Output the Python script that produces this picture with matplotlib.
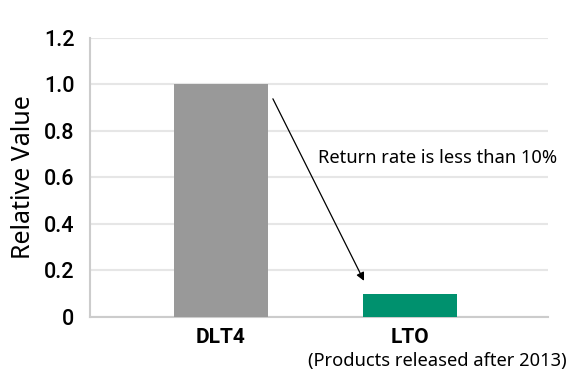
import matplotlib.pyplot as plt

categories = ['DLT4', 'LTO']
values = [1.0, 0.1]
colors = ['#999999', '#00916e']
yticks = [0, 0.2, 0.4, 0.6, 0.8, 1.0, 1.2]
yticklabels = ['0', '0.2', '0.4', '0.6', '0.8', '1.0', '1.2']

plt.rcParams['font.family'] = ['Roboto', 'DejaVu Sans']

fig = plt.figure(figsize=(5.69, 3.75), dpi=100)
ax = fig.add_axes([0.158, 0.155, 0.805, 0.744])

x = range(len(categories))
ax.bar(x, values, width=0.5, color=colors, zorder=3)

ax.set_xlim(-0.693, 1.73)
ax.set_ylim(0, 1.2)
ax.set_yticks(yticks)
ax.set_yticklabels(yticklabels, fontsize=15.5, fontweight='medium')
ax.set_xticks(list(x))
ax.set_xticklabels(categories, fontsize=15, fontweight='bold')
ax.tick_params(axis='both', length=0)
ax.tick_params(axis='x', pad=8)
ax.tick_params(axis='y', pad=11)

ax.grid(axis='y', color='#e6e6e6', linewidth=1.5, zorder=0)
for side in ['top', 'right']:
    ax.spines[side].set_visible(False)
ax.spines['left'].set_color('#cccccc')
ax.spines['bottom'].set_color('#cccccc')
ax.spines['left'].set_linewidth(1.5)
ax.spines['bottom'].set_linewidth(1.5)

ax.set_ylabel('Relative Value', fontsize=18, family=['Noto Sans', 'DejaVu Sans'], labelpad=6)

ax.annotate('', xy=(0.757, 0.155), xytext=(0.275, 0.938),
            arrowprops=dict(arrowstyle='-|>', color='black', lw=0.9,
                            mutation_scale=12, shrinkA=0, shrinkB=0))
ax.text(0.513, 0.684, 'Return rate is less than 10%', fontsize=13.2,
        family=['Noto Sans', 'DejaVu Sans'], va='center', ha='left')
ax.text(1.143, -0.189, '(Products released after 2013)', fontsize=13.2,
        family=['Noto Sans', 'DejaVu Sans'], va='center', ha='center', clip_on=False)

fig.savefig('out.png', dpi=100)
